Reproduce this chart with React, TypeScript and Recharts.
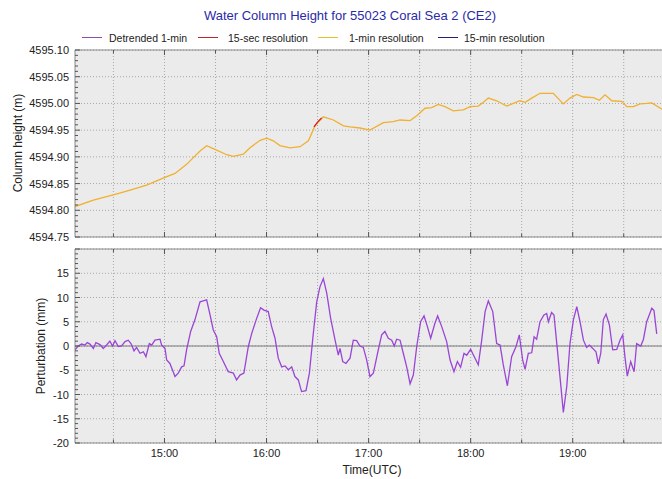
import React from 'react';
import { LineChart, Line, XAxis, YAxis, CartesianGrid, ReferenceLine } from 'recharts';

// time in minutes since 14:00 UTC
const heightTime = [7.4, 18.2, 29.9, 37.8, 49.5, 59.9, 66.2, 73.0, 80.9, 84.8, 89.7, 96.6, 100.5, 106.4, 110.3, 116.2, 120.1, 124.0, 127.9, 133.8, 139.7, 144.6, 148.5, 153.4, 159.3, 165.2, 169.1, 175.0, 180.8, 188.7, 194.5, 198.5, 204.4, 208.3, 213.2, 217.1, 221.0, 224.9, 229.8, 235.7, 239.6, 244.5, 247.5, 250.4, 255.3, 261.2, 265.1, 269.0, 272.0, 275.9, 280.8, 284.7, 288.6, 294.5, 298.4, 302.4, 306.3, 312.2, 315.7, 319.0, 323.0, 328.8, 331.8, 335.7, 339.6, 343.5, 346.5, 352.5];
const heightValue = [4594.807, 4594.819, 4594.829, 4594.836, 4594.847, 4594.861, 4594.869, 4594.886, 4594.911, 4594.921, 4594.914, 4594.904, 4594.901, 4594.905, 4594.917, 4594.931, 4594.935, 4594.930, 4594.921, 4594.917, 4594.919, 4594.930, 4594.958, 4594.975, 4594.969, 4594.958, 4594.956, 4594.954, 4594.950, 4594.964, 4594.966, 4594.969, 4594.968, 4594.977, 4594.991, 4594.992, 4594.998, 4594.994, 4594.986, 4594.988, 4594.994, 4594.995, 4595.002, 4595.010, 4595.005, 4594.995, 4595.000, 4595.005, 4595.002, 4595.010, 4595.019, 4595.019, 4595.019, 4594.999, 4595.010, 4595.017, 4595.012, 4595.011, 4595.006, 4595.016, 4595.005, 4595.004, 4594.994, 4594.994, 4594.999, 4595.000, 4595.001, 4594.989];

const hiresTime = [147.9, 150.0, 152.4];
const hiresValue = [4594.956, 4594.965, 4594.973];

const pertTime = [7.4, 9.3, 11.3, 13.3, 14.6, 16.2, 18.2, 19.7, 22.1, 24.0, 26.0, 27.9, 29.5, 30.9, 32.9, 34.8, 36.8, 38.7, 40.3, 42.1, 43.6, 45.6, 47.6, 49.1, 51.1, 52.5, 54.4, 57.4, 58.3, 60.3, 61.3, 63.2, 66.2, 68.1, 70.1, 71.5, 73.0, 75.4, 77.9, 80.9, 82.8, 84.8, 86.8, 88.7, 90.7, 92.2, 94.6, 97.5, 100.5, 102.4, 104.4, 106.7, 109.3, 111.3, 114.2, 116.5, 118.5, 121.0, 123.0, 125.0, 126.9, 128.9, 130.9, 132.8, 134.8, 136.7, 138.7, 140.6, 143.2, 145.2, 147.5, 149.5, 151.4, 153.4, 155.4, 157.7, 160.3, 162.2, 163.2, 164.8, 166.7, 169.1, 171.0, 173.0, 174.9, 176.9, 178.9, 180.8, 182.8, 185.7, 187.7, 189.6, 191.6, 193.6, 195.1, 196.5, 198.5, 200.4, 202.4, 204.4, 206.3, 208.3, 210.6, 212.6, 214.5, 216.5, 219.0, 220.6, 223.0, 225.9, 227.9, 230.2, 232.2, 234.1, 236.1, 237.7, 240.0, 242.0, 244.5, 246.5, 248.5, 250.4, 253.0, 255.3, 257.3, 259.2, 261.6, 264.1, 266.7, 268.6, 270.6, 272.0, 273.9, 275.9, 277.3, 278.8, 280.8, 283.1, 284.7, 285.7, 287.6, 289.0, 291.0, 292.9, 294.5, 296.5, 298.4, 300.4, 302.4, 304.3, 306.3, 308.2, 309.8, 311.8, 313.7, 315.1, 316.5, 318.0, 319.6, 321.6, 323.5, 325.9, 327.8, 329.4, 330.8, 332.1, 334.1, 336.1, 337.6, 340.0, 341.6, 343.5, 346.5, 347.8, 349.4];
const pertValue = [-0.8, 0, 0.4, 0.2, 0.7, 0.4, -0.5, 0.7, 0.3, -0.5, 0.2, 1.0, 0, 1.1, -0.1, 0, 0.9, 1.2, 0.5, -1.0, -0.3, -1.5, -1.2, -2.2, 0.5, 0.2, 1.2, 1.4, 0.2, -0.5, -2.9, -3.6, -6.3, -5.6, -4.3, -4.1, -0.8, 3.0, 5.4, 9.1, 9.3, 9.5, 6.4, 3.3, 1.9, -1.5, -3.2, -5.3, -5.6, -7.0, -6.0, -5.6, -0.1, 2.6, 5.7, 7.9, 7.4, 7.1, 4.0, 1.6, -2.5, -4.3, -4.1, -4.9, -4.3, -6.3, -7.0, -9.4, -9.2, -5.6, 2.6, 9.1, 12.2, 13.9, 10.9, 5.7, 1.2, -1.9, -0.5, -3.2, -3.6, -2.5, 1.2, 1.1, 0, -0.3, -2.9, -6.3, -5.6, -0.8, 2.3, 3.0, 1.6, 1.2, 0, 1.4, 1.2, -1.5, -4.3, -7.8, -6.0, -0.1, 5.0, 6.2, 4.1, 1.6, 4.7, 6.2, 4.0, 0.9, -2.9, -5.3, -3.2, -4.4, -1.5, -1.9, -0.7, -2.1, -3.9, 1.2, 7.1, 9.3, 7.1, 0.5, 0.2, -3.9, -8.2, -2.2, -0.1, 2.3, -2.9, -4.8, -1.5, -1.4, 1.9, 1.4, 5.0, 6.4, 6.7, 5.0, 6.9, 6.4, -0.8, -7.7, -13.7, -8.4, 0.5, 5.4, 8.1, 5.0, 1.2, -0.3, 0.2, -0.5, -1.2, -3.7, -1.5, 5.4, 6.6, 4.3, -0.8, -0.7, 1.2, 2.3, -2.5, -6.2, -3.2, -5.3, 0.5, 0, 1.4, 5.0, 7.8, 7.3, 2.5];

const xDomain = [7.4, 352.5];
const xTicks = [30, 60, 90, 120, 150, 180, 210, 240, 270, 300, 330];
const xTickLabels = ['14:30', '15:00', '15:30', '16:00', '16:30', '17:00', '17:30', '18:00', '18:30', '19:00', '19:30'];
const heightTicks = [4594.75, 4594.80, 4594.85, 4594.90, 4594.95, 4595.00, 4595.05, 4595.10];
const heightLabels = ['4594.75', '4594.80', '4594.85', '4594.90', '4594.95', '4595.00', '4595.05', '4595.10'];
const pertTicks = [-20, -15, -10, -5, 0, 5, 10, 15, 20];
const pertLabels = ['-20', '-15', '-10', '-5', '0', '5', '10', '15', ''];

const heightData = heightTime.map((t, i) => ({ t, h: heightValue[i] }));
const hiresData = hiresTime.map((t, i) => ({ t, h: hiresValue[i] }));
const pertData = pertTime.map((t, i) => ({ t, p: pertValue[i] }));

const subdivide = (majors: number[], n: number) => {
  const out: number[] = [];
  for (let i = 0; i < majors.length; i++) {
    out.push(majors[i]);
    if (i < majors.length - 1) {
      const step = (majors[i + 1] - majors[i]) / n;
      for (let k = 1; k < n; k++) out.push(+(majors[i] + k * step).toFixed(6));
    }
  }
  return out;
};
const heightAllTicks = subdivide(heightTicks, 5);
const pertAllTicks = subdivide(pertTicks, 5);

const FONT = '"Liberation Sans", Arial, sans-serif';
const TICK_COLOR = '#555';
const AXIS_COLOR = '#8a8a8a';

const makeXTick = (dir: 'up' | 'down', showLabels: boolean) => (props: any) => {
  const { x, y, payload } = props;
  const idx = xTicks.indexOf(payload.value);
  const major = payload.value % 60 === 0;
  const len = major ? 5 : 3.5;
  return (
    <g>
      <line x1={x} x2={x} y1={y} y2={dir === 'up' ? y - len : y + len} stroke={TICK_COLOR} strokeWidth={1} />
      {showLabels && major && idx >= 0 ? (
        <text x={x} y={y + 14} textAnchor="middle" fontSize={11} fontFamily={FONT} fill="#222">
          {xTickLabels[idx]}
        </text>
      ) : null}
    </g>
  );
};

const makeYTick = (majors: number[], labels: string[]) => (props: any) => {
  const { x, y, payload } = props;
  const idx = majors.findIndex((m) => Math.abs(m - payload.value) < 1e-6);
  const major = idx >= 0;
  return (
    <g>
      <line x1={x} x2={x + (major ? 5 : 3)} y1={y} y2={y} stroke={TICK_COLOR} strokeWidth={1} />
      {major ? (
        <text x={x - 6} y={y + 4} textAnchor="end" fontSize={11} fontFamily={FONT} fill="#222">
          {labels[idx]}
        </text>
      ) : null}
    </g>
  );
};

const legendItems = [
  { label: 'Detrended 1-min', color: '#8a4fb0', lx: 82, tx: 109 },
  { label: '15-sec resolution', color: '#c02828', lx: 198, tx: 228 },
  { label: '1-min resolution', color: '#e8c020', lx: 318, tx: 349 },
  { label: '15-min resolution', color: '#22226e', lx: 438, tx: 464 },
];

export default function App() {
  return (
    <div style={{ position: 'absolute', left: 0, top: 0, width: 662, height: 479, background: '#fff', overflow: 'hidden', fontFamily: FONT }}>
      <div style={{ position: 'absolute', left: 350, top: 7, transform: 'translateX(-50%)', whiteSpace: 'nowrap', fontSize: 13, color: '#2a2aa8', lineHeight: '18px' }}>
        Water Column Height for 55023 Coral Sea 2 (CE2)
      </div>
      {legendItems.map((it) => (
        <React.Fragment key={it.label}>
          <div style={{ position: 'absolute', left: it.lx, top: 37, width: 20, height: 0, borderTop: `1.5px solid ${it.color}` }} />
          <div style={{ position: 'absolute', left: it.tx, top: 31, whiteSpace: 'nowrap', fontSize: 10.5, color: '#222', lineHeight: '14px' }}>
            {it.label}
          </div>
        </React.Fragment>
      ))}
      <div style={{ position: 'absolute', left: 18, top: 143, transform: 'translate(-50%, -50%) rotate(-90deg)', whiteSpace: 'nowrap', fontSize: 12, color: '#222' }}>
        Column height (m)
      </div>
      <div style={{ position: 'absolute', left: 41, top: 346, transform: 'translate(-50%, -50%) rotate(-90deg)', whiteSpace: 'nowrap', fontSize: 12, color: '#222' }}>
        Perturbation (mm)
      </div>
      <div style={{ position: 'absolute', left: 372, top: 470, transform: 'translate(-50%, -50%)', whiteSpace: 'nowrap', fontSize: 12, color: '#222' }}>
        Time(UTC)
      </div>

      <div style={{ position: 'absolute', left: 0, top: 0 }}>
        <LineChart width={662} height={250} margin={{ top: 49, right: 0, bottom: 12, left: 0 }}>
          <CartesianGrid horizontalValues={heightTicks} verticalValues={xTicks} stroke="#a8a8a8" strokeDasharray="1 2" fill="#ebebeb" fillOpacity={1} xAxisId="x" yAxisId="y" />
          <XAxis xAxisId="x" dataKey="t" type="number" domain={xDomain} allowDataOverflow ticks={xTicks} interval={0} height={1} tickSize={0} tickMargin={0} tickLine={false} axisLine={{ stroke: AXIS_COLOR }} tick={makeXTick('up', false)} />
          <XAxis xAxisId="xt" orientation="top" dataKey="t" type="number" domain={xDomain} allowDataOverflow ticks={xTicks} interval={0} height={1} tickSize={0} tickMargin={0} tickLine={false} axisLine={{ stroke: AXIS_COLOR }} tick={makeXTick('down', false)} />
          <YAxis yAxisId="y" type="number" domain={[4594.75, 4595.1]} allowDataOverflow ticks={heightAllTicks} interval={0} width={75} tickSize={0} tickMargin={0} tickLine={false} axisLine={{ stroke: AXIS_COLOR }} tick={makeYTick(heightTicks, heightLabels)} />
          <Line xAxisId="x" yAxisId="y" data={heightData} dataKey="h" type="linear" stroke="#f0b030" strokeWidth={1.3} dot={false} isAnimationActive={false} />
          <Line xAxisId="x" yAxisId="y" data={hiresData} dataKey="h" type="linear" stroke="#d02020" strokeWidth={1.3} dot={false} isAnimationActive={false} />
        </LineChart>
      </div>

      <div style={{ position: 'absolute', left: 0, top: 240 }}>
        <LineChart width={662} height={239} data={pertData} margin={{ top: 8, right: 0, bottom: 35, left: 0 }}>
          <CartesianGrid horizontalValues={pertTicks} verticalValues={xTicks} stroke="#a8a8a8" strokeDasharray="1 2" fill="#ebebeb" fillOpacity={1} xAxisId="x" yAxisId="y" />
          <XAxis xAxisId="x" dataKey="t" type="number" domain={xDomain} allowDataOverflow ticks={xTicks} interval={0} height={1} tickSize={0} tickMargin={0} tickLine={false} axisLine={{ stroke: AXIS_COLOR }} tick={makeXTick('up', true)} />
          <XAxis xAxisId="xt" orientation="top" dataKey="t" type="number" domain={xDomain} allowDataOverflow ticks={xTicks} interval={0} height={1} tickSize={0} tickMargin={0} tickLine={false} axisLine={{ stroke: AXIS_COLOR }} tick={makeXTick('down', false)} />
          <YAxis yAxisId="y" type="number" domain={[-20, 20]} allowDataOverflow ticks={pertAllTicks} interval={0} width={75} tickSize={0} tickMargin={0} tickLine={false} axisLine={{ stroke: AXIS_COLOR }} tick={makeYTick(pertTicks, pertLabels)} />
          <ReferenceLine xAxisId="x" yAxisId="y" y={0} stroke="#7a7a7a" strokeWidth={1} />
          <Line xAxisId="x" yAxisId="y" dataKey="p" type="linear" stroke="#9a45d6" strokeWidth={1.3} dot={false} isAnimationActive={false} />
        </LineChart>
      </div>
    </div>
  );
}
